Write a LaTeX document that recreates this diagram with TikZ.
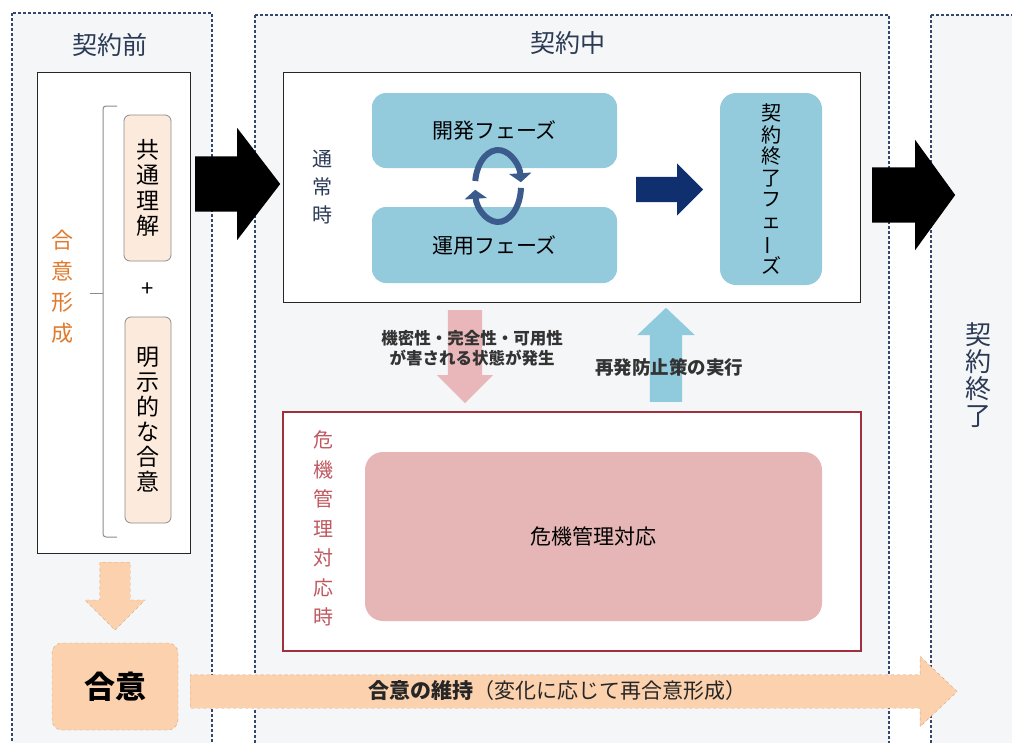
\documentclass[tikz,border=0pt]{standalone}
\usepackage{fontspec}
\setmainfont{Noto Sans CJK JP}
\usetikzlibrary{shapes.arrows,arrows.meta,calc}

\definecolor{framec}{HTML}{34486E}
\definecolor{framebg}{HTML}{F5F6F8}
\definecolor{titlec}{HTML}{2B3A55}
\definecolor{orangetx}{HTML}{E07B2E}
\definecolor{beige}{HTML}{FCEADC}
\definecolor{beigeline}{HTML}{8C8C8C}
\definecolor{peach}{HTML}{FBD1AE}
\definecolor{peachline}{HTML}{D9A277}
\definecolor{phase}{HTML}{93CADC}
\definecolor{circc}{HTML}{3A5B8C}
\definecolor{navy}{HTML}{0F2F6E}
\definecolor{pinkarr}{HTML}{E9B6B9}
\definecolor{bluearr}{HTML}{90CADD}
\definecolor{redline}{HTML}{A0303C}
\definecolor{redtx}{HTML}{C0585F}
\definecolor{crisis}{HTML}{E5B6B5}

\tikzset{
  frame/.style={draw=framec, fill=framebg, densely dashed, line width=1.5pt},
  whitebox/.style={draw=black!85, fill=white, line width=1pt, inner sep=0pt},
  beigebox/.style={draw=beigeline, fill=beige, rounded corners=6pt, line width=0.8pt, inner sep=0pt, align=center},
  phasebox/.style={fill=phase, rounded corners=14pt, inner sep=0pt, align=center},
  vtext/.style={align=center, inner sep=0pt},
  blockarrow/.style={single arrow, inner xsep=0pt, single arrow head indent=0pt, anchor=tail},
  bracket/.style={draw=beigeline, line width=1pt, rounded corners=3pt},
  circarrow/.style={draw=circc, line width=6pt, -{Triangle[width=22pt,length=9pt]}}
}

\begin{document}
\begin{tikzpicture}[x=1pt,y=-1pt]
\useasboundingbox (0,0) rectangle (1012,742);
\clip (0,0) rectangle (1012,742);
\fill[white] (0,0) rectangle (1012,742);

% three periods
\draw[frame] (12,13) rectangle (212,760);
\draw[frame] (255,15) rectangle (889,760);
\draw[frame] (931,15) rectangle (1040,760);
\node[font=\fontsize{25}{25}\selectfont, text=titlec] (pretitle) at (110,45) {契約前};
\node[font=\fontsize{25}{25}\selectfont, text=titlec] (midtitle) at (568,43) {契約中};
\node[vtext, font=\fontsize{26}{27}\selectfont, text=titlec] (endtitle) at (978,375) {契\\約\\終\\了};

% before the contract
\node[whitebox, minimum width=153pt, minimum height=481pt] (before) at (113.5,312.5) {};
\node[vtext, font=\fontsize{22}{31}\selectfont, text=orangetx] (forming) at (62,287) {合\\意\\形\\成};
\draw[bracket] (117,106) -- (103,106) -- (103,537) -- (117,537);
\draw[bracket] (103,293) -- (90,293);
\node[beigebox, minimum width=47pt, minimum height=146pt, font=\fontsize{23}{25.5}\selectfont] (common) at (147.5,188) {共\\通\\理\\解};
\node[font=\fontsize{22}{22}\selectfont] (plus) at (148,290) {+};
\node[beigebox, minimum width=46pt, minimum height=206pt, font=\fontsize{23}{25}\selectfont] (explicit) at (148,420) {明\\示\\的\\な\\合\\意};
\node[blockarrow, fill=peach, draw=peachline, dashed, rotate=-90, minimum height=68pt, inner ysep=15pt,
  single arrow head extend=15pt, single arrow tip angle=90] (down) at (115,562) {};
\node[fill=peach, draw=peachline, dashed, rounded corners=10pt, minimum width=126pt, minimum height=87pt,
  font=\bfseries\fontsize{31}{31}\selectfont] (agree) at (115,686.5) {合意};

% normal time
\node[whitebox, minimum width=577pt, minimum height=230pt] (normal) at (571.5,187) {};
\node[vtext, font=\fontsize{20}{28}\selectfont, text=titlec] (normallabel) at (322,187) {通\\常\\時};
\node[phasebox, minimum width=245pt, minimum height=75pt, font=\fontsize{21}{21}\selectfont] (dev) at (494.5,130.5) {開発フェーズ};
\node[phasebox, minimum width=245pt, minimum height=76pt, font=\fontsize{21}{21}\selectfont] (ops) at (494.5,245) {運用フェーズ};
\coordinate (loop) at (498,186);
\draw[circarrow] ($(loop)+(172:23pt and 36pt)$) arc[start angle=172, end angle=6, x radius=23pt, y radius=36pt];
\draw[circarrow] ($(loop)+(-3:23pt and 36pt)$) arc[start angle=-3, end angle=-174, x radius=23pt, y radius=36pt];
\node[blockarrow, fill=navy, minimum height=67pt, inner ysep=12.5pt,
  single arrow head extend=13.5pt, single arrow tip angle=90] (tofinish) at (636,189.5) {};
\node[phasebox, rounded corners=16pt, minimum width=102pt, minimum height=192pt, font=\fontsize{20}{21.5}\selectfont]
  (finish) at (771,189) {契\\約\\終\\了\\フ\\ェ\\\rotatebox[origin=c]{90}{ー}\\ズ};

% between normal time and crisis
\node[blockarrow, fill=pinkarr, rotate=-90, minimum height=93pt, inner ysep=17pt,
  single arrow head extend=11pt, single arrow tip angle=90] (incident) at (465,310) {};
\node[blockarrow, fill=bluearr, rotate=90, minimum height=94pt, inner ysep=16pt,
  single arrow head extend=12.5pt, single arrow tip angle=93] (prevent) at (666,402) {};
\node[align=center, font=\bfseries\fontsize{16.5}{19.5}\selectfont, text=black!80] (incidenttext) at (472,348)
  {機密性・完全性・可用性\\が害される状態が発生};
\node[font=\bfseries\fontsize{18.5}{18.5}\selectfont, text=black!80] (preventtext) at (669,367) {再発防止策の実行};

% crisis time
\node[draw=redline, fill=white, line width=1.2pt, inner sep=0pt, minimum width=578pt, minimum height=239pt] (crisistime) at (572,531.5) {};
\node[vtext, font=\fontsize{20}{29.5}\selectfont, text=redtx] (crisislabel) at (323,528.5) {危\\機\\管\\理\\対\\応\\時};
\node[fill=crisis, rounded corners=18pt, minimum width=457pt, minimum height=169pt, font=\fontsize{21}{21}\selectfont] (response) at (593.5,536.5) {危機管理対応};

% big arrows between periods
\node[blockarrow, fill=black, minimum height=85pt, inner ysep=27.5pt,
  single arrow head extend=28.5pt, single arrow tip angle=105] (start) at (195,184) {};
\node[blockarrow, fill=black, minimum height=83pt, inner ysep=27.5pt,
  single arrow head extend=27.5pt, single arrow tip angle=108] (end) at (872,195) {};

% keeping the agreement
\node[blockarrow, fill=peach, draw=peachline, dashed, minimum height=767pt, inner ysep=16.5pt,
  single arrow head extend=18.5pt, single arrow tip angle=87] (keep) at (190,691.5) {};
\node[font=\fontsize{21}{21}\selectfont, text=black!85] (keeptext) at (557,691) {{\bfseries 合意の維持}（変化に応じて再合意形成）};
\end{tikzpicture}
\end{document}
